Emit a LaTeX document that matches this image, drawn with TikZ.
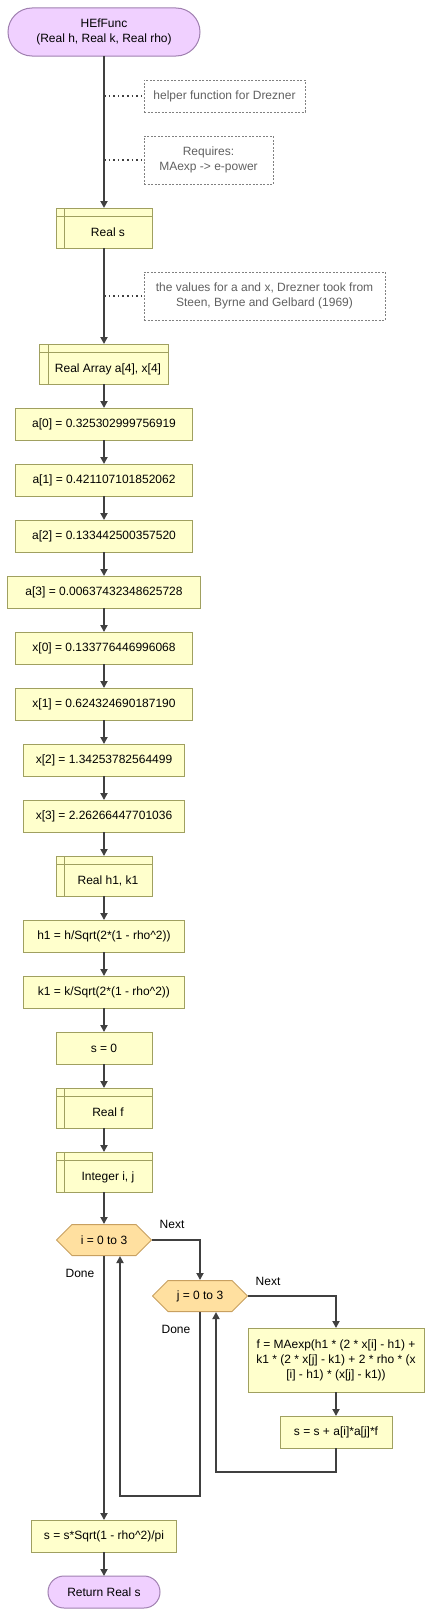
\documentclass[tikz,border=0pt]{standalone}
\usepackage{fontspec}
\setmainfont{Liberation Sans}
\usetikzlibrary{arrows.meta}
\definecolor{procfill}{HTML}{FFFFCC}
\definecolor{procline}{HTML}{A0A060}
\definecolor{termfill}{HTML}{F0D0FF}
\definecolor{termline}{HTML}{A080B0}
\definecolor{loopfill}{HTML}{FFE0A0}
\definecolor{loopline}{HTML}{C8A060}
\definecolor{wire}{HTML}{404040}
\definecolor{notegray}{HTML}{606060}
\begin{document}
\begin{tikzpicture}[x=1bp,y=-1bp,
  font=\fontsize{12bp}{15bp}\selectfont,
  every node/.style={inner sep=0pt, outer sep=0pt, align=center},
  proc/.style={draw=procline, fill=procfill, line width=1bp, minimum height=32bp},
  decl/.style={proc, minimum width=96bp, minimum height=40bp, text height=20bp, text depth=4bp,
    path picture={\draw[procline, line width=1bp]
      ([xshift=8bp]path picture bounding box.north west) -- ([xshift=8bp]path picture bounding box.south west)
      ([yshift=-8bp]path picture bounding box.north west) -- ([yshift=-8bp]path picture bounding box.north east);}},
  term/.style={draw=termline, fill=termfill, line width=1bp},
  loopnode/.style={minimum width=96bp, minimum height=32bp,
    path picture={\filldraw[draw=loopline, fill=loopfill, line width=1bp]
      ([xshift=0.5bp]path picture bounding box.west)
      -- ([xshift=16bp,yshift=-0.5bp]path picture bounding box.north west)
      -- ([xshift=-16bp,yshift=-0.5bp]path picture bounding box.north east)
      -- ([xshift=-0.5bp]path picture bounding box.east)
      -- ([xshift=-16bp,yshift=0.5bp]path picture bounding box.south east)
      -- ([xshift=16bp,yshift=0.5bp]path picture bounding box.south west) -- cycle;}},
  note/.style={draw=notegray!80, line width=0.8bp, dash pattern=on 2bp off 1.5bp, text=notegray},
  lbl/.style={text=black},
  flow/.style={draw=wire, line width=2bp, -{Triangle[length=7bp,width=7bp]}},
  dotline/.style={draw=wire, line width=1.6bp, dash pattern=on 1.6bp off 3bp}
]
\useasboundingbox (0,0) rectangle (433,1617);

% main column
\node[term, rounded corners=24bp, minimum width=192bp, minimum height=48bp] (start) at (104,32) {HEfFunc\\(Real h, Real k, Real rho)};
\node[decl] (reals) at (104,228) {\hspace*{8bp}Real s};
\node[decl, minimum width=128bp] (realarr) at (104,364) {\hspace*{8bp}Real Array a[4], x[4]};
\node[proc, minimum width=176bp] (a0) at (104,424) {a[0] = 0.325302999756919};
\node[proc, minimum width=176bp] (a1) at (104,480) {a[1] = 0.421107101852062};
\node[proc, minimum width=176bp] (a2) at (104,536) {a[2] = 0.133442500357520};
\node[proc, minimum width=192bp] (a3) at (104,592) {a[3] = 0.00637432348625728};
\node[proc, minimum width=176bp] (x0) at (104,648) {x[0] = 0.133776446996068};
\node[proc, minimum width=176bp] (x1) at (104,704) {x[1] = 0.624324690187190};
\node[proc, minimum width=160bp] (x2) at (104,760) {x[2] = 1.34253782564499};
\node[proc, minimum width=160bp] (x3) at (104,816) {x[3] = 2.26266447701036};
\node[decl] (realh) at (104,876) {\hspace*{8bp}Real h1, k1};
\node[proc, minimum width=160bp] (h1) at (104,936) {h1 = h/Sqrt(2*(1 - rho\textasciicircum2))};
\node[proc, minimum width=160bp] (k1) at (104,992) {k1 = k/Sqrt(2*(1 - rho\textasciicircum2))};
\node[proc, minimum width=96bp] (s0) at (104,1048) {s = 0};
\node[decl] (realf) at (104,1108) {\hspace*{8bp}Real f};
\node[decl] (intij) at (104,1172) {\hspace*{8bp}Integer i, j};
\node[loopnode] (iloop) at (104,1240) {i = 0 to 3};
\node[loopnode] (jloop) at (200,1296) {j = 0 to 3};
\node[proc, minimum width=176bp, minimum height=64bp] (fbox) at (336,1360)
  {f = MAexp(h1 * (2 * x[i] - h1) +\\k1 * (2 * x[j] - k1) + 2 * rho * (x\\{[i]} - h1) * (x[j] - k1))};
\node[proc, minimum width=112bp] (sadd) at (336,1432) {s = s + a[i]*a[j]*f};
\node[proc, minimum width=144bp] (sfinal) at (104,1536) {s = s*Sqrt(1 - rho\textasciicircum2)/pi};
\node[term, rounded corners=16bp, minimum width=112bp, minimum height=32bp] (ret) at (104,1592) {Return Real s};

% comments
\node[note, minimum width=161bp, minimum height=32bp] (c1) at (224.5,96) {helper function for Drezner};
\node[note, minimum width=129bp, minimum height=48bp] (c2) at (208.5,160) {Requires:\\MAexp -> e-power};
\node[note, minimum width=241bp, minimum height=48bp] (c3) at (264.5,296) {the values for a and x, Drezner took from\\Steen, Byrne and Gelbard (1969)};
\coordinate (c1a) at (104,96);
\coordinate (c2a) at (104,160);
\coordinate (c3a) at (104,296);
\draw[dotline] (c1a) -- (c1);
\draw[dotline] (c2a) -- (c2);
\draw[dotline] (c3a) -- (c3);

% loop labels
\node[lbl] (inext) at (172,1224) {Next};
\node[lbl] (idone) at (80,1273) {Done};
\node[lbl] (jnext) at (268,1281) {Next};
\node[lbl] (jdone) at (176,1329) {Done};

% main flow
\draw[flow] (start) -- (reals);
\draw[flow] (reals) -- (realarr);
\draw[flow] (realarr) -- (a0);
\draw[flow] (a0) -- (a1);
\draw[flow] (a1) -- (a2);
\draw[flow] (a2) -- (a3);
\draw[flow] (a3) -- (x0);
\draw[flow] (x0) -- (x1);
\draw[flow] (x1) -- (x2);
\draw[flow] (x2) -- (x3);
\draw[flow] (x3) -- (realh);
\draw[flow] (realh) -- (h1);
\draw[flow] (h1) -- (k1);
\draw[flow] (k1) -- (s0);
\draw[flow] (s0) -- (realf);
\draw[flow] (realf) -- (intij);
\draw[flow] (intij) -- (iloop);

% loops
\coordinate (icorner) at (200,1240);
\draw[flow] (iloop.east) -- (icorner) -- (jloop.north);
\coordinate (jcorner) at (336,1296);
\draw[flow] (jloop.east) -- (jcorner) -- (fbox.north);
\draw[flow] (fbox) -- (sadd);
\coordinate (sback1) at (336,1472);
\coordinate (sback2) at (216,1472);
\draw[flow] (sadd.south) -- (sback1) -- (sback2) -- (jloop.south -| sback2);
\coordinate (jback1) at (200,1496);
\coordinate (jback2) at (120,1496);
\draw[flow] (jloop.south) -- (jback1) -- (jback2) -- (iloop.south -| jback2);
\draw[flow] (iloop.south) -- (sfinal.north);
\draw[flow] (sfinal) -- (ret);
\end{tikzpicture}
\end{document}
